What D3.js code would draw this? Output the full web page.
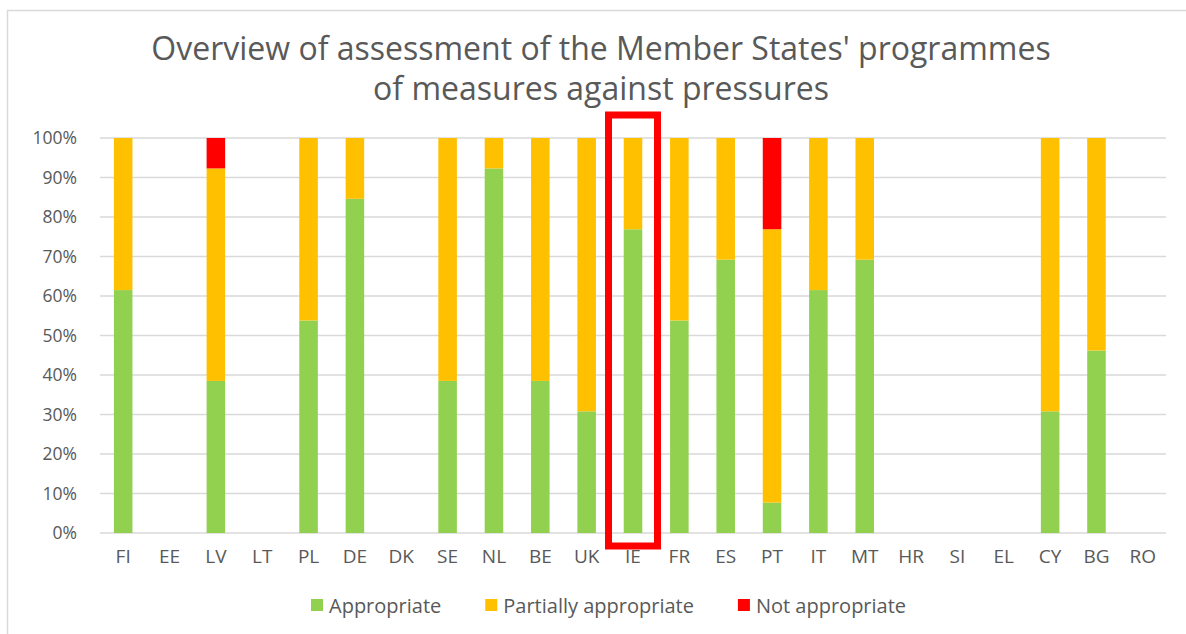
<!DOCTYPE html>
<html><head><meta charset="utf-8">
<script src="https://cdn.jsdelivr.net/npm/d3@7"></script>
<style>body{margin:0;background:#fff;}svg{display:block;font-family:"Open Sans",sans-serif;}</style>
</head><body><svg id="c" width="1186" height="634"></svg>
<script>
const categories = ["FI","EE","LV","LT","PL","DE","DK","SE","NL","BE","UK","IE","FR","ES","PT","IT","MT","HR","SI","EL","CY","BG","RO"];
const appropriate = [61.5,0,38.5,0,53.8,84.6,0,38.5,92.3,38.5,30.8,76.9,53.8,69.2,7.7,61.5,69.2,0,0,0,30.8,46.2,0];
const partially   = [38.5,0,53.8,0,46.2,15.4,0,61.5,7.7,61.5,69.2,23.1,46.2,30.8,69.2,38.5,30.8,0,0,0,69.2,53.8,0];
const notApprop   = [0,0,7.7,0,0,0,0,0,0,0,0,0,0,0,23.1,0,0,0,0,0,0,0,0];
const seriesNames = ["Appropriate","Partially appropriate","Not appropriate"];
const seriesColors = ["#92d050","#ffc000","#ff0000"];
const yTicks = [0,10,20,30,40,50,60,70,80,90,100];
const titleLines = ["Overview of assessment of the Member States' programmes","of measures against pressures"];
const highlighted = "IE";

const svg = d3.select("#c");
const W = 1186, H = 634;
const m = {left:100, right:20, top:138, bottom:101};
const x = d3.scaleBand().domain(categories).range([m.left, W - m.right]).paddingInner(0.6).paddingOuter(0.3);
const y = d3.scaleLinear().domain([0,100]).range([H - m.bottom, m.top]);
const grey = "#595959";

// frame
svg.append("rect").attr("x",7.5).attr("y",10.5).attr("width",W).attr("height",H)
  .attr("fill","none").attr("stroke","#d9d9d9").attr("stroke-width",1.5);

// title
svg.append("g").selectAll("text").data(titleLines).join("text")
  .attr("x",601).attr("y",(d,i)=>60 + i*40)
  .attr("text-anchor","middle").attr("fill",grey).attr("font-size",32)
  .text(d=>d);

// gridlines
svg.append("g").selectAll("line").data(yTicks).join("line")
  .attr("x1",m.left).attr("x2",W - m.right)
  .attr("y1",d=>y(d)).attr("y2",d=>y(d))
  .attr("stroke","#d9d9d9").attr("stroke-width",1.5);

// y axis
const ya = svg.append("g").attr("transform",`translate(${m.left},0)`)
  .call(d3.axisLeft(y).tickValues(yTicks).tickFormat(d=>d+"%").tickSize(0).tickPadding(23));
ya.select(".domain").remove();
ya.selectAll("text").attr("fill",grey).attr("font-size",17.5).attr("font-family","Open Sans");

// x axis
const xa = svg.append("g").attr("transform",`translate(0,${H - m.bottom})`)
  .call(d3.axisBottom(x).tickSize(0).tickPadding(17));
xa.select(".domain").remove();
xa.selectAll("text").attr("fill",grey).attr("font-size",19).attr("font-family","Open Sans");

// stacked bars
const rows = categories.map((c,i)=>({cat:c, a:appropriate[i], p:partially[i], n:notApprop[i]}));
const stack = d3.stack().keys(["a","p","n"])(rows);
svg.append("g").selectAll("g").data(stack).join("g")
  .attr("fill",(d,i)=>seriesColors[i])
  .selectAll("rect").data(d=>d.filter(s=>s[1]-s[0]>0)).join("rect")
  .attr("x",d=>x(d.data.cat)).attr("width",x.bandwidth())
  .attr("y",d=>y(d[1])).attr("height",d=>y(d[0])-y(d[1]));

// highlight box
const hx = x(highlighted) + x.bandwidth()/2;
svg.append("rect").attr("x",hx-24.5).attr("y",115).attr("width",49).attr("height",431)
  .attr("fill","none").attr("stroke","#ff0000").attr("stroke-width",7);

// legend
const lg = svg.append("g").attr("transform","translate(0,613)");
let lx = 311;
seriesNames.forEach((n,i)=>{
  lg.append("rect").attr("x",lx).attr("y",-14).attr("width",12).attr("height",12).attr("fill",seriesColors[i]);
  const t = lg.append("text").attr("x",lx+18).attr("y",0).attr("fill",grey).attr("font-size",20).text(n);
  lx += 18 + t.node().getComputedTextLength() + 44;
});
</script></body></html>
